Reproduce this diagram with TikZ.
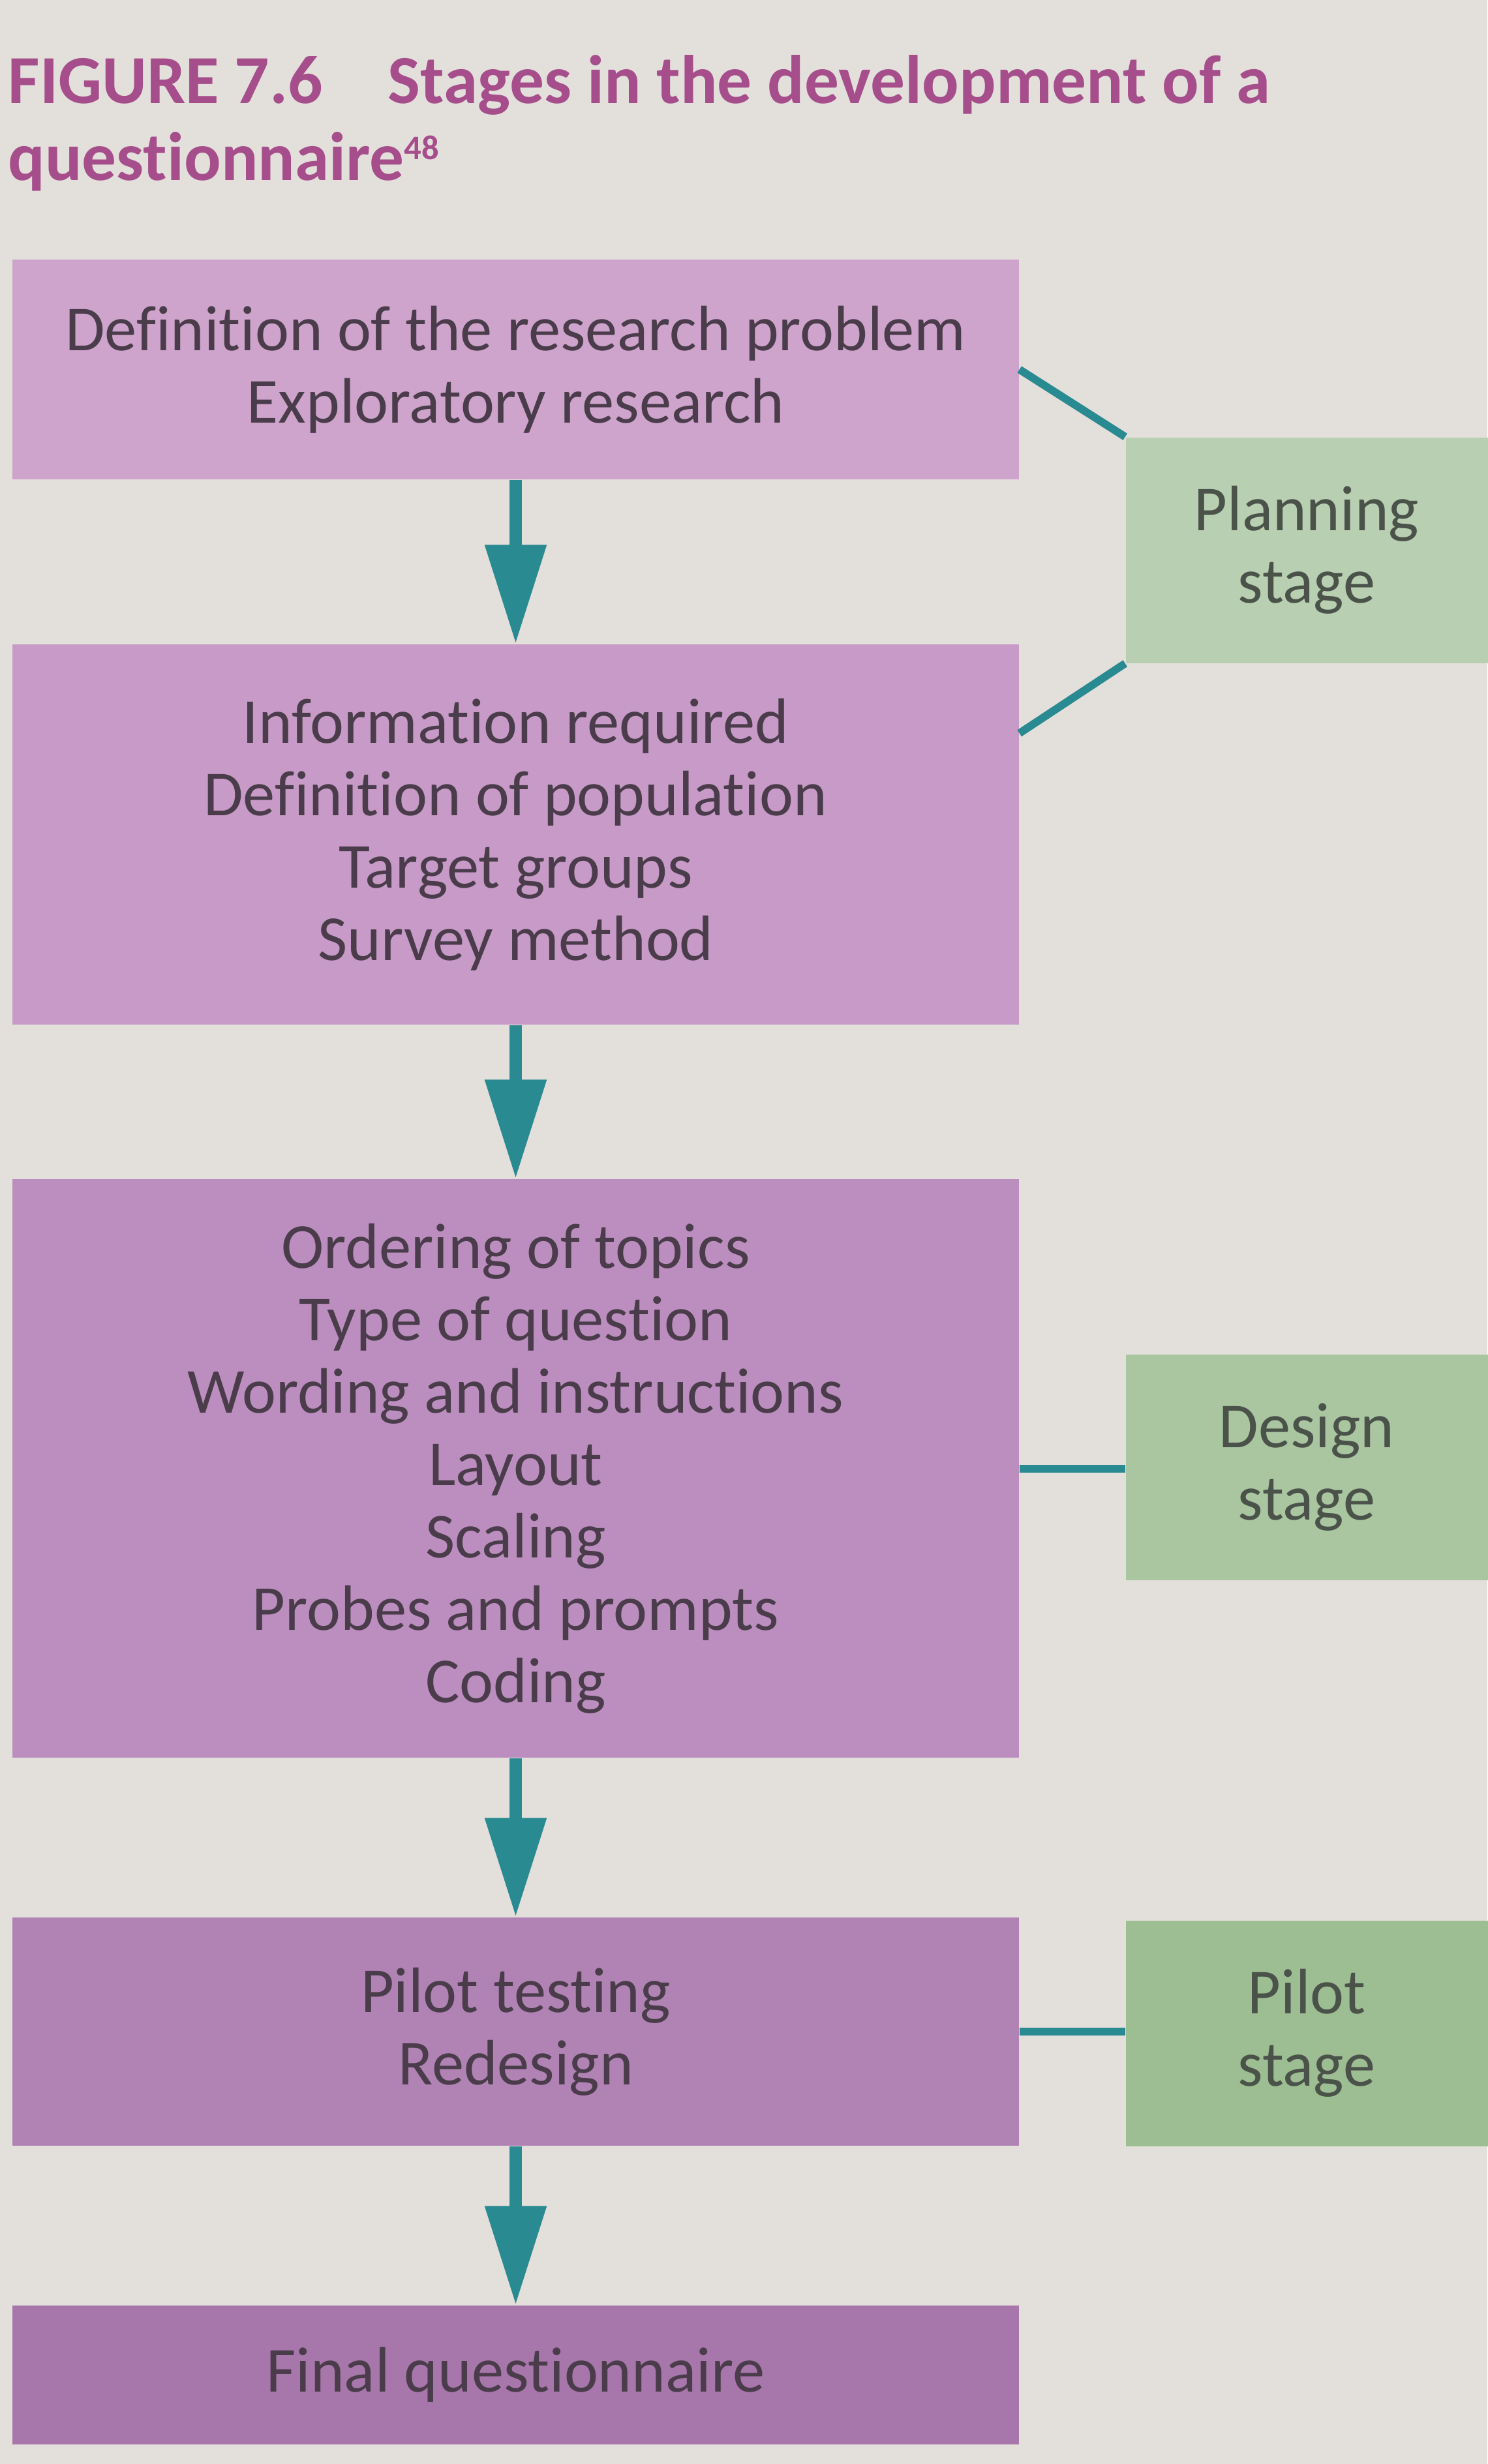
\documentclass[tikz,border=0pt]{standalone}
\usepackage{fontspec}
\setmainfont{Carlito}[Ligatures=NoCommon]
\usepackage{xcolor}
\usepackage{tikz}
\usetikzlibrary{arrows.meta,positioning,calc}

\definecolor{pagebg}{HTML}{E3E0DB}
\definecolor{titlemag}{HTML}{A64E8C}
\definecolor{textdark}{HTML}{4A3C4A}
\definecolor{stagetext}{HTML}{4A524A}
\definecolor{linkteal}{HTML}{2A8A92}
\definecolor{stepa}{HTML}{CEA3CC}
\definecolor{stepb}{HTML}{C79AC7}
\definecolor{stepc}{HTML}{BC8EBF}
\definecolor{stepd}{HTML}{B183B5}
\definecolor{stepe}{HTML}{A776AB}
\definecolor{stagea}{HTML}{B8CFB2}
\definecolor{stageb}{HTML}{A9C6A1}
\definecolor{stagec}{HTML}{9DBD93}

\begin{document}
\begin{tikzpicture}[
  x=1cm,
  y=1cm,
  >=Latex,
  title/.style={font=\fontsize{30}{34}\selectfont\bfseries, text=titlemag, inner sep=0pt},
  stepbox/.style={fill=#1, text=textdark, font=\fontsize{28}{31.6}\selectfont, align=center,
    minimum width=15.43cm, inner sep=0pt},
  stagebox/.style={fill=#1, text=stagetext, font=\fontsize{28}{31.6}\selectfont, align=center,
    minimum width=5.55cm, minimum height=3.46cm, inner sep=0pt},
  flow/.style={draw=linkteal, line width=0.19cm, -{Triangle[width=0.9cm,length=1.52cm]}},
  link/.style={draw=linkteal, line width=0.12cm}
]

% Page: 22.8 x 37.78 (1 cm = 100 px of the scan).
\fill[pagebg] (0,0) rectangle (22.8,-37.78);
\useasboundingbox (0,0) rectangle (22.8,-37.78);

% Caption.
\node[title, anchor=base west] (capa) at (0.12,-1.58) {FIGURE 7.6\hspace{1.0cm}Stages in the development of a};
\node[title, anchor=base west] (capb) at (0.12,-2.76) {questionnaire\textsuperscript{\fontsize{15}{15}\selectfont 48}};

% Main column of steps.
\node[stepbox=stepa, minimum height=3.37cm] (define) at (7.905,-5.665)
  {Definition of the research problem\\Exploratory research};
\node[stepbox=stepb, minimum height=5.83cm] (inform) at (7.905,-12.795)
  {Information required\\Definition of population\\Target groups\\Survey method};
\node[stepbox=stepc, minimum height=8.87cm] (design) at (7.905,-22.515)
  {Ordering of topics\\Type of question\\Wording and instructions\\Layout\\Scaling\\Probes and prompts\\Coding};
\node[stepbox=stepd, minimum height=3.50cm] (pilot) at (7.905,-31.15)
  {Pilot testing\\Redesign};
\node[stepbox=stepe, minimum height=2.13cm] (final) at (7.905,-36.415)
  {Final questionnaire};

% Stage labels on the right.
\node[stagebox=stagea] (planstage) at (20.03,-8.435) {Planning\\stage};
\node[stagebox=stageb] (designstage) at (20.03,-22.495) {Design\\stage};
\node[stagebox=stagec] (pilotstage) at (20.03,-31.175) {Pilot\\stage};

% Arrows down the column.
\foreach \a/\b in {define/inform,inform/design,design/pilot,pilot/final} {
  \draw[flow] (\a.south) -- (\b.north);
}

% Links to the stages.
\coordinate (informlink) at ($(inform.north east)+(0,-1.37)$);
\draw[link] (define.east) -- (planstage.north west);
\draw[link] (informlink) -- (planstage.south west);
\draw[link] (design.east) -- (design.east -| designstage.west);
\draw[link] (pilot.east) -- (pilot.east -| pilotstage.west);
\end{tikzpicture}
\end{document}
